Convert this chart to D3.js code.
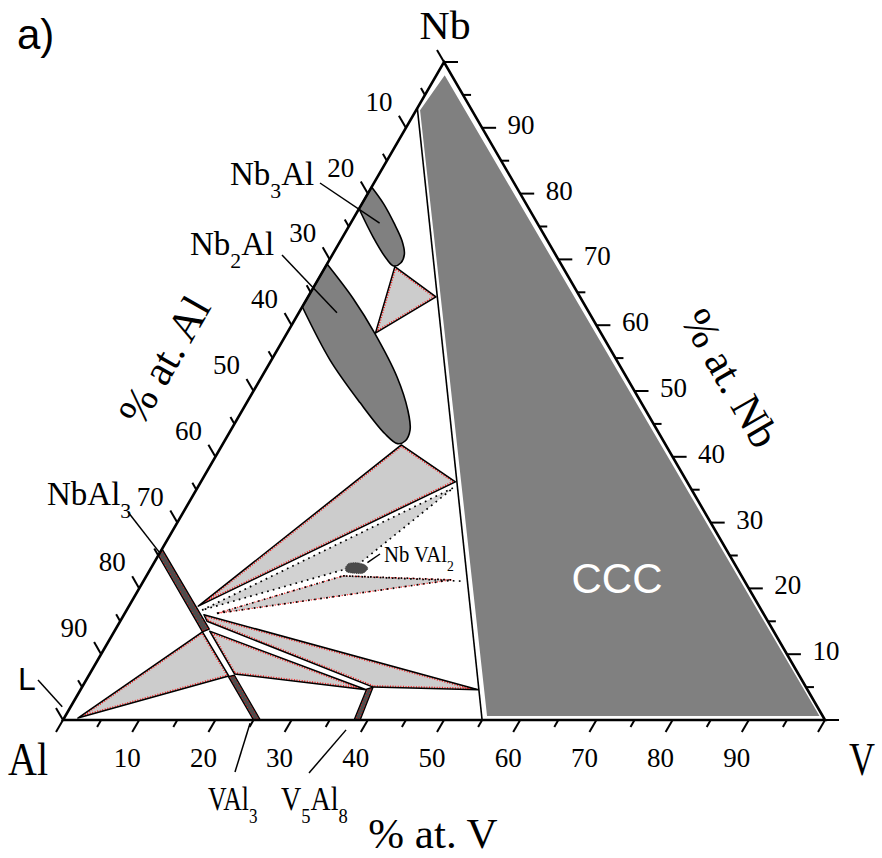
<!DOCTYPE html>
<html>
<head>
<meta charset="utf-8">
<script src="https://cdn.jsdelivr.net/npm/d3@7"></script>
<style>
  html, body { margin: 0; padding: 0; background: #fff; }
  svg { display: block; }
</style>
</head>
<body>
<svg id="chart" width="882" height="858"></svg>
<script>
// Compositions are [V at.%, Nb at.%]; Al at.% is the remainder.

// Axis ticks (every 5 %) and labelled values
const tickValues = d3.range(0, 101, 5);
const tickLabels = [10, 20, 30, 40, 50, 60, 70, 80, 90];

// Single-phase bcc field (CCC) and its boundary line
const bccRegion = [[1.0, 98.2], [0.4, 92.7], [55.3, 0.5], [99.2, 0.5]];
const bccBoundary = [[0, 93.0], [55.0, 0]];

// Nb3Al and Nb2Al homogeneity ranges (edge point -> curved outline -> edge point)
const nb3alRegion = [[0, 81.0], [2.9, 78.4], [5.7, 75.5], [8.1, 72.8], [9.4, 70.8], [9.6, 69.5],
                     [8.9, 69.0], [7.4, 70.1], [4.0, 73.4], [0, 77.7]];
const nb2alRegion = [[0, 69.3], [6.0, 64.1], [11.5, 58.8], [17.8, 52.1], [21.7, 47.1], [23.5, 44.1],
                     [23.7, 42.4], [22.9, 42.0], [20.5, 43.5], [14.9, 48.2], [7.7, 54.7], [0, 62.8]];

// Three-phase triangles
const triNb3Nb2Bcc = [[9.1, 68.9], [16.8, 64.3], [11.6, 58.8]];
const triNb2NbAl3Bcc = [[23.5, 41.8], [33.4, 36.2], [9.1, 17.3]];
const triNbAl3V5Al8Bcc = [[10.5, 16.0], [52.2, 4.6], [38.2, 5.0], [11.4, 15.0]];
const triNbAl3VAl3V5Al8 = [[12.5, 13.5], [37.5, 4.6], [19.0, 7.0]];
const triLNbAl3VAl3 = [[1.8, 0.3], [11.6, 13.4], [18.4, 6.7]];

// NbVAl2 region and the tie fields around it
const nbval2Upper = [[9.9, 16.7], [33.6, 35.3], [26.8, 23.4]];
const nbval2Lower = [[12.1, 16.2], [25.8, 21.9], [40.4, 21.3]];
const nbval2LowerExt = [[25.8, 21.9], [41.8, 21.1]];
const nbval2Phase = [[25.5, 23.1], [25.6, 23.8], [26.6, 23.9], [27.8, 23.6], [28.5, 23.0],
                     [28.2, 22.3], [27.1, 22.3], [26.0, 22.5]];

// Narrow compound strips
const nbal3Strip = [[0, 25.0], [0, 26.0], [12.3, 13.8], [11.6, 13.4]];
const val3Strip = [[18.4, 6.6], [19.1, 6.8], [25.9, 0], [25.0, 0]];
const v5al8Strip = [[37.5, 4.7], [38.2, 5.0], [39.0, 0], [38.2, 0]];

// Points the phase labels refer to
const targetNb3Al = [3.8, 75.5];
const targetNb2Al = [5.0, 61.9];
const targetNbAl3 = [0, 25.4];
const targetNbVAl2 = [28.0, 23.9];
const targetL = [-1.1, 2.0];
const targetVAl3 = [24.8, -0.5];
const targetV5Al8 = [37.9, -1.5];

// ---------------------------------------------------------------
const svg = d3.select('#chart');
const serif = '"Liberation Serif", "Times New Roman", serif';
const sans = '"Liberation Sans", Arial, sans-serif';

const xScale = d3.scaleLinear().domain([0, 100]).range([63, 825]);
const yScale = d3.scaleLinear().domain([0, 100]).range([720, 62]);
const proj = ([v, nb]) => [xScale(v + nb / 2), yScale(nb)];

const straight = d3.line().x(d => proj(d)[0]).y(d => proj(d)[1]);
const closed = pts => straight(pts) + 'Z';
const smooth = d3.line().x(d => proj(d)[0]).y(d => proj(d)[1]).curve(d3.curveCatmullRom.alpha(0.5));
const smoothClosed = d3.line().x(d => proj(d)[0]).y(d => proj(d)[1]).curve(d3.curveCardinalClosed.tension(0.2));

const defs = svg.append('defs');
let clipCount = 0;

// Filled field with a black border and a red dotted inner rim
function rimmedField(pts, fill, blackWidth, rimWidth, rimDash) {
  const id = 'rim' + (clipCount++);
  const d = closed(pts);
  defs.append('clipPath').attr('id', id).append('path').attr('d', d);
  const g = svg.append('g');
  g.append('path').attr('d', d).attr('fill', fill);
  g.append('path').attr('d', d).attr('fill', 'none')
    .attr('stroke', '#ff1a1a').attr('stroke-width', rimWidth || 4)
    .attr('stroke-dasharray', rimDash || '1,1.6').attr('clip-path', `url(#${id})`);
  g.append('path').attr('d', d).attr('fill', 'none')
    .attr('stroke', '#000').attr('stroke-width', blackWidth || 1.5)
    .attr('stroke-linejoin', 'round');
}

// bcc field
svg.append('path').attr('d', closed(bccRegion))
  .attr('fill', '#808080').attr('stroke', '#fff').attr('stroke-width', 1.6);
svg.append('path').attr('d', straight(bccBoundary))
  .attr('fill', 'none').attr('stroke', '#000').attr('stroke-width', 1.6);

// Nb3Al, Nb2Al
[nb3alRegion, nb2alRegion].forEach(pts => {
  svg.append('path').attr('d', smooth(pts) + 'Z')
    .attr('fill', '#808080').attr('stroke', '#000').attr('stroke-width', 1.6);
});

// three-phase fields
rimmedField(triNb3Nb2Bcc, '#cccccc');
rimmedField(triNb2NbAl3Bcc, '#cccccc');
rimmedField(triNbAl3V5Al8Bcc, '#cccccc');
rimmedField(triNbAl3VAl3V5Al8, '#cccccc');
rimmedField(triLNbAl3VAl3, '#cccccc');

// NbVAl2 fields
svg.append('path').attr('d', closed(nbval2Upper)).attr('fill', '#d2d2d2');
svg.append('path').attr('d', closed(nbval2Upper)).attr('fill', 'none')
  .attr('stroke', '#000').attr('stroke-width', 1.7).attr('stroke-dasharray', '1.7,4.2');
svg.append('path').attr('d', closed(nbval2Lower)).attr('fill', '#cfcfcf');
svg.append('path').attr('d', closed(nbval2Lower)).attr('fill', 'none')
  .attr('stroke', '#ff1a1a').attr('stroke-width', 1.2).attr('stroke-dasharray', '1,1.6');
svg.append('path').attr('d', closed(nbval2Lower)).attr('fill', 'none')
  .attr('stroke', '#000').attr('stroke-width', 1.7).attr('stroke-dasharray', '1.7,4.4');
svg.append('path').attr('d', straight(nbval2LowerExt)).attr('fill', 'none')
  .attr('stroke', '#000').attr('stroke-width', 1.7).attr('stroke-dasharray', '1.7,4.4');
svg.append('path').attr('d', smoothClosed(nbval2Phase))
  .attr('fill', '#4a4a4a').attr('stroke', '#333').attr('stroke-width', 0.8)
  .attr('stroke-dasharray', '1,1');

// compound strips
rimmedField(nbal3Strip, '#4d4d4d', 1.3, 3, '1,2.4');
rimmedField(val3Strip, '#4d4d4d', 1.3, 3, '1,2.4');
rimmedField(v5al8Strip, '#4d4d4d', 1.3, 3, '1,2.4');

// triangle frame
const corners = [[0, 0], [100, 0], [0, 100]];
svg.append('path').attr('d', closed(corners))
  .attr('fill', 'none').attr('stroke', '#000').attr('stroke-width', 2.6)
  .attr('stroke-linejoin', 'miter');

// ticks
const c30 = Math.cos(Math.PI / 3), s60 = Math.sin(Math.PI / 3);
const tickLen = t => (t % 10 === 0 ? 14 : 8);
const axes = [
  { at: t => [t, 0], dir: [-c30, s60] },          // % at. V along the base
  { at: t => [0, 100 - t], dir: [-c30, -s60] },   // % at. Al along the left side
  { at: t => [100 - t, t], dir: [1, 0] }          // % at. Nb along the right side
];
const tickG = svg.append('g').attr('stroke', '#000').attr('stroke-width', 2);
axes.forEach(ax => {
  tickValues.forEach(t => {
    const [x, y] = proj(ax.at(t));
    const L = tickLen(t);
    tickG.append('line').attr('x1', x).attr('y1', y)
      .attr('x2', x + ax.dir[0] * L).attr('y2', y + ax.dir[1] * L);
  });
});

// tick labels
const lblG = svg.append('g').attr('font-family', serif).attr('font-size', 27)
  .attr('fill', '#000').attr('text-anchor', 'middle');
tickLabels.forEach(t => {
  const [bx] = proj([t, 0]);
  lblG.append('text').attr('x', bx - 12).attr('y', 767).text(t);
  const [lx, ly] = proj([0, 100 - t]);
  lblG.append('text').attr('x', lx - 27).attr('y', ly - 17).text(t);
  const [rx, ry] = proj([100 - t, t]);
  lblG.append('text').attr('x', rx + 39).attr('y', ry + 6).text(t);
});

// axis titles
svg.append('text').attr('x', 433).attr('y', 848).attr('text-anchor', 'middle')
  .attr('font-family', serif).attr('font-size', 43).text('% at. V');
svg.append('text').attr('transform', 'translate(164,360) rotate(-60)')
  .attr('text-anchor', 'middle').attr('dy', '0.35em')
  .attr('font-family', serif).attr('font-size', 43).text('% at. Al');
svg.append('text').attr('transform', 'translate(731,378) rotate(60)')
  .attr('text-anchor', 'middle').attr('dy', '0.35em')
  .attr('font-family', serif).attr('font-size', 43).text('% at. Nb');

// corner element labels
svg.append('text').attr('x', 445).attr('y', 39).attr('text-anchor', 'middle')
  .attr('font-family', serif).attr('font-size', 40)
  .attr('textLength', 51).attr('lengthAdjust', 'spacingAndGlyphs').text('Nb');
svg.append('text').attr('x', 8).attr('y', 775)
  .attr('font-family', serif).attr('font-size', 46)
  .attr('textLength', 40).attr('lengthAdjust', 'spacingAndGlyphs').text('Al');
svg.append('text').attr('x', 849).attr('y', 775)
  .attr('font-family', serif).attr('font-size', 46)
  .attr('textLength', 26).attr('lengthAdjust', 'spacingAndGlyphs').text('V');

// panel letter and bcc label
svg.append('text').attr('x', 17).attr('y', 49)
  .attr('font-family', sans).attr('font-size', 42).text('a)');
svg.append('text').attr('x', 617).attr('y', 593).attr('text-anchor', 'middle')
  .attr('font-family', sans).attr('font-size', 42).attr('fill', '#fff').text('CCC');

// phase labels with leader lines
const leaderG = svg.append('g').attr('stroke', '#000').attr('stroke-width', 1.5);
function leader(start, target) {
  const [x2, y2] = proj(target);
  leaderG.append('line').attr('x1', start[0]).attr('y1', start[1]).attr('x2', x2).attr('y2', y2);
}
function phaseLabel(x, y, parts, size, sx) {
  const t = svg.append('text')
    .attr('transform', `translate(${x},${y}) scale(${sx || 1},1)`)
    .attr('font-family', serif).attr('font-size', size);
  let shift = 0;
  parts.forEach(p => {
    const s = t.append('tspan').text(p.text);
    if (p.sub) {
      s.attr('font-size', size * 0.66).attr('dy', size * 0.38 - shift);
      shift = size * 0.38;
    } else {
      s.attr('dy', -shift);
      shift = 0;
    }
  });
}

leader([320, 183], targetNb3Al);
phaseLabel(230, 185, [{ text: 'Nb' }, { text: '3', sub: true }, { text: 'Al' }], 33);

leader([282, 255], targetNb2Al);
phaseLabel(190, 255, [{ text: 'Nb' }, { text: '2', sub: true }, { text: 'Al' }], 33);

leader([128, 512], targetNbAl3);
phaseLabel(47, 505, [{ text: 'NbAl' }, { text: '3', sub: true }], 33);

leader([380, 554], targetNbVAl2);
phaseLabel(384, 562, [{ text: 'Nb VAl' }, { text: '2', sub: true }], 23, 0.9);

leader([38, 680], targetL);
svg.append('text').attr('x', 18).attr('y', 690)
  .attr('font-family', sans).attr('font-size', 32).text('L');

leader([235, 772], targetVAl3);
phaseLabel(208, 810, [{ text: 'VAl' }, { text: '3', sub: true }], 33, 0.78);

leader([309, 773], targetV5Al8);
phaseLabel(281, 810, [{ text: 'V' }, { text: '5', sub: true }, { text: 'Al' }, { text: '8', sub: true }], 33, 0.85);
</script>
</body>
</html>
